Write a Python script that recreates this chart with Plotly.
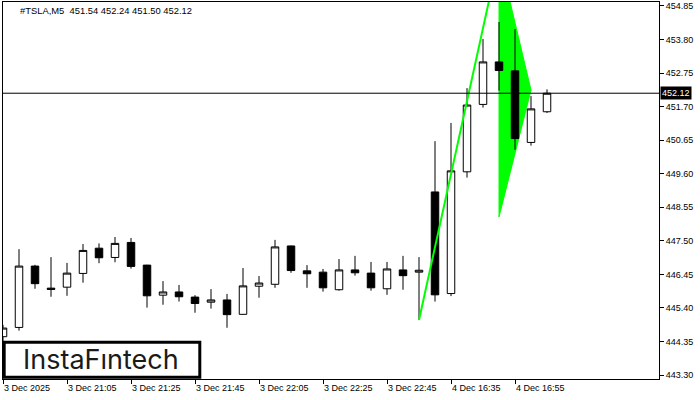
import plotly.graph_objects as go

# ---- data ----
candle_idx = list(range(35))
opens  = [444.50, 444.79, 446.71, 446.02, 446.05, 446.48, 447.27, 446.98, 447.45, 446.74,
          445.80, 445.90, 445.74, 445.58, 445.65, 445.20, 446.08, 446.14, 447.34, 446.56,
          446.52, 445.97, 446.59, 446.49, 446.00, 446.59, 446.52, 449.03, 445.85, 449.66,
          451.77, 453.10, 452.82, 450.58, 451.54]
highs  = [444.87, 447.24, 446.75, 446.99, 446.81, 447.40, 447.42, 447.62, 447.59, 446.75,
          446.24, 446.12, 445.80, 445.99, 445.84, 446.65, 446.40, 447.53, 447.35, 446.74,
          446.62, 446.93, 447.03, 446.84, 446.84, 447.03, 446.99, 450.62, 451.19, 452.28,
          453.82, 454.35, 454.13, 452.03, 452.24]
lows   = [444.35, 444.69, 446.00, 445.75, 445.78, 446.19, 446.80, 446.83, 446.63, 445.41,
          445.50, 445.60, 445.25, 445.38, 444.78, 445.19, 445.72, 446.03, 446.50, 446.03,
          445.91, 445.94, 446.41, 445.94, 445.81, 445.97, 445.02, 445.60, 445.77, 449.48,
          451.67, 452.20, 450.35, 450.48, 451.50]
closes = [444.77, 446.71, 446.16, 445.98, 446.49, 447.20, 446.97, 447.42, 446.70, 445.78,
          445.90, 445.75, 445.54, 445.65, 445.19, 446.09, 446.18, 447.31, 446.57, 446.47,
          446.03, 446.59, 446.50, 446.03, 446.62, 446.41, 446.58, 445.81, 449.69, 451.75,
          453.10, 452.83, 450.70, 451.63, 452.12]

x_tick_idx = [0, 4, 8, 12, 16, 20, 24, 28, 32]
x_tick_labels = ["3 Dec 2025", "3 Dec 21:05", "3 Dec 21:25", "3 Dec 21:45", "3 Dec 22:05",
                 "3 Dec 22:25", "3 Dec 22:45", "4 Dec 16:35", "4 Dec 16:55"]
y_tick_labels = ["443.30", "444.35", "445.40", "446.45", "447.50", "448.55",
                 "449.60", "450.65", "451.70", "452.75", "453.80", "454.85"]

pole_x = [26, 31]
pole_y = [445.02, 456.44]
pennant_x = [31, 31, 33]
pennant_y = [456.44, 448.25, 452.22]

symbol = "#TSLA,M5"
x_range = [0, 41]
y_range = [443.176, 454.975]

# ---- figure ----
fig = go.Figure()

# pennant body drawn beneath the candles
pennant_path = "M " + " L ".join(f"{px},{py}" for px, py in zip(pennant_x, pennant_y)) + " Z"
fig.add_shape(type="path", xref="x", yref="y", path=pennant_path,
              fillcolor="#00FF00", line=dict(color="#00FF00", width=1), layer="below")

fig.add_trace(go.Candlestick(
    x=candle_idx, open=opens, high=highs, low=lows, close=closes,
    increasing=dict(fillcolor="white", line=dict(color="black", width=1)),
    decreasing=dict(fillcolor="black", line=dict(color="black", width=1)),
    whiskerwidth=0, showlegend=False))

fig.add_trace(go.Scatter(
    x=pole_x, y=pole_y, mode="lines",
    line=dict(color="#00FF00", width=2), hoverinfo="skip", showlegend=False))

font_fam = "Liberation Sans, Arial, sans-serif"

fig.update_layout(
    width=700, height=400,
    margin=dict(l=3, r=41, t=2, b=21),
    paper_bgcolor="white", plot_bgcolor="white",
    boxgap=0.33,
    font=dict(family=font_fam, size=9, color="black"),
    xaxis=dict(
        range=x_range, showgrid=False, zeroline=False,
        rangeslider=dict(visible=False),
        tickmode="array", tickvals=x_tick_idx, ticktext=x_tick_labels,
        ticks="outside", ticklen=4, tickcolor="black",
        ticklabelposition="outside right",
        showline=True, linecolor="black", linewidth=1, mirror=True,
        tickfont=dict(family=font_fam, size=9, color="black"),
    ),
    yaxis=dict(
        range=y_range, side="right", showgrid=False, zeroline=False,
        tickmode="array", tickvals=[float(v) for v in y_tick_labels], ticktext=y_tick_labels,
        ticks="outside", ticklen=4, tickcolor="black",
        showline=True, linecolor="black", linewidth=1, mirror=True,
        tickfont=dict(family=font_fam, size=9, color="black"),
    ),
)

last_close = closes[-1]
fig.add_shape(type="line", xref="paper", yref="y", x0=0, x1=1, y0=last_close, y1=last_close,
              line=dict(color="black", width=1), layer="above")

fig.add_annotation(xref="paper", yref="y", x=1, y=last_close, xanchor="left", yanchor="middle",
                   xshift=1, text=f"{last_close:.2f}", showarrow=False, bgcolor="black",
                   borderpad=1, font=dict(family=font_fam, size=9, color="white"))

title_txt = f"{symbol}  {opens[-1]:.2f} {highs[-1]:.2f} {lows[-1]:.2f} {closes[-1]:.2f}"
fig.add_annotation(xref="paper", yref="paper", x=0.0229, y=0.977, xanchor="left", yanchor="middle",
                   text=title_txt, showarrow=False,
                   font=dict(family=font_fam, size=9.4, color="black"))

# logo box
fig.add_shape(type="rect", xref="paper", yref="paper", x0=0.0018, x1=0.300, y0=0.0048, y1=0.0976,
              fillcolor="white", line=dict(color="black", width=3), layer="above")
fig.add_annotation(xref="paper", yref="paper", x=0.149, y=0.052, xanchor="center", yanchor="middle",
                   text="InstaF\u0131ntech", showarrow=False,
                   font=dict(family="Inter, sans-serif", size=27, color="#1a1a1a"))

fig.write_html("out.html", config={"displayModeBar": False},
               post_script="document.body.style.margin='0px';")
